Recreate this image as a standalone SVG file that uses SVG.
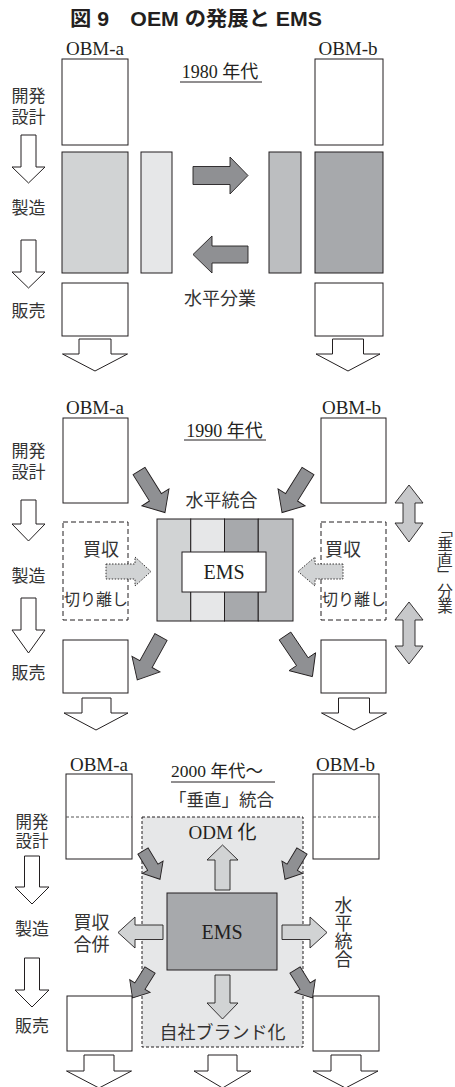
<svg xmlns="http://www.w3.org/2000/svg" xmlns:xlink="http://www.w3.org/1999/xlink" width="455" height="1087" viewBox="0 0 455 1087">
<style>
.t{font-family:"Liberation Serif","Noto Sans CJK JP",serif;fill:#231f20;}
.j{font-family:"Noto Sans CJK JP","Liberation Sans",sans-serif;fill:#333;}
.k{font-family:"Liberation Sans","Noto Sans CJK JP",sans-serif;fill:#333;}
.box{fill:#fff;stroke:#231f20;stroke-width:1;}
.ln{stroke:#231f20;stroke-width:1;fill:none;}
.wa{fill:#fff;stroke:#231f20;stroke-width:1;}
.da{fill:#8f9093;stroke:#231f20;stroke-width:0.9;}
.la{fill:#d1d3d4;stroke:#231f20;stroke-width:0.9;}
.dbl{fill:#c7c8ca;stroke:#231f20;stroke-width:0.9;}
.dot{fill:#d1d3d4;stroke:#231f20;stroke-width:0.9;stroke-dasharray:1.5,1.5;}
.dash{fill:#fff;stroke:#231f20;stroke-width:1;stroke-dasharray:5,3;}
</style>
<defs>
<path id="bigA" d="M0,-7 H31 V-16 L49,0 L31,16 V7 H0 Z"/>
<path id="smA" d="M0,-6 H19 V-12 L33,0 L19,12 V6 H0 Z"/>
</defs>

<g id="title">
<text x="196" y="26" text-anchor="middle" font-family="'Liberation Sans','Noto Sans CJK JP',sans-serif" font-weight="bold" font-size="20" fill="#231f20" textLength="252" lengthAdjust="spacingAndGlyphs">図 9　OEM の発展と EMS</text>
</g>

<!-- ===== Section 1: 1980 ===== -->
<g id="s1-labels">
<text class="t" x="95" y="55" font-size="19" text-anchor="middle">OBM-a</text>
<text class="t" x="348" y="55" font-size="19" text-anchor="middle">OBM-b</text>
<text class="t" x="220" y="78" font-size="18" text-anchor="middle">1980 年代</text>
<line class="ln" x1="180" y1="82" x2="262" y2="82"/>
<text class="k" font-size="17" text-anchor="middle"><tspan x="28.5" y="102">開発</tspan><tspan x="28.5" y="123">設計</tspan></text>
<text class="j" x="28.5" y="214" font-size="17" text-anchor="middle">製造</text>
<text class="j" x="28.5" y="317" font-size="17" text-anchor="middle">販売</text>
<text class="j" x="220" y="305" font-size="18" text-anchor="middle">水平分業</text>
</g>
<g id="s1-obm-a">
<rect class="box" x="62" y="59" width="66" height="86"/>
<rect x="62" y="152" width="66" height="121" fill="#d1d3d4" stroke="#231f20"/>
<rect class="box" x="62" y="283" width="66" height="53"/>
</g>
<g id="s1-bars">
<rect x="141" y="152" width="31" height="121" fill="#e6e7e8" stroke="#231f20"/>
<rect x="269" y="152" width="32" height="121" fill="#bcbec0" stroke="#231f20"/>
</g>
<g id="s1-obm-b">
<rect class="box" x="315" y="59" width="68" height="86"/>
<rect x="315" y="152" width="68" height="121" fill="#a7a9ac" stroke="#231f20"/>
<rect class="box" x="315" y="283" width="68" height="53"/>
</g>
<g id="s1-connectors">
<path class="wa" d="M21,135 H36 V167 H45 L28.5,183 L12,167 H21 Z"/>
<path class="wa" d="M21,240 H36 V272 H45 L28.5,288 L12,272 H21 Z"/>
<path class="da" d="M193,166.5 H230 V157 L248,175.5 L230,194 V184.5 H193 Z"/>
<path class="da" d="M248,246 H212 V236 L193,254.5 L212,273 V263 H248 Z"/>
<path class="wa" d="M79,339 H111 V354 H127.5 L95,371 L62.5,354 H79 Z"/>
<path class="wa" d="M332.5,339 H363.5 V354 H380 L348,371 L316,354 H332.5 Z"/>
</g>

<!-- ===== Section 2: 1990 ===== -->
<g id="s2-labels">
<text class="t" x="95" y="414" font-size="19" text-anchor="middle">OBM-a</text>
<text class="t" x="351.5" y="414" font-size="19" text-anchor="middle">OBM-b</text>
<text class="t" x="224.5" y="436.5" font-size="18" text-anchor="middle">1990 年代</text>
<line class="ln" x1="184" y1="440" x2="266" y2="440"/>
<text class="k" font-size="17" text-anchor="middle"><tspan x="28.5" y="457">開発</tspan><tspan x="28.5" y="478">設計</tspan></text>
<text class="j" x="28.5" y="582" font-size="17" text-anchor="middle">製造</text>
<text class="j" x="28.5" y="679" font-size="17" text-anchor="middle">販売</text>
<text class="j" x="221.5" y="507" font-size="18" text-anchor="middle">水平統合</text>
<text class="j" x="445" y="521" font-size="15.5" writing-mode="vertical-rl">「垂直」分業</text>
</g>
<g id="s2-obm-a">
<rect class="box" x="63" y="418" width="65" height="85"/>
<rect class="dash" x="63" y="522" width="65" height="98"/>
<text class="j" x="83" y="556" font-size="18">買収</text>
<text class="j" x="64" y="605" font-size="16">切り離し</text>
<rect class="box" x="63" y="640" width="65" height="53"/>
</g>
<g id="s2-obm-b">
<rect class="box" x="321" y="418" width="65" height="85"/>
<rect class="dash" x="321" y="522" width="65" height="98"/>
<text class="j" x="325" y="556" font-size="18">買収</text>
<text class="j" x="322" y="605" font-size="16">切り離し</text>
<rect class="box" x="321" y="640" width="65" height="53"/>
</g>
<g id="s2-ems">
<rect x="157" y="519" width="33.75" height="102" fill="#d1d3d4" stroke="#231f20"/>
<rect x="190.75" y="519" width="33.75" height="102" fill="#e6e7e8" stroke="#231f20"/>
<rect x="224.5" y="519" width="33.75" height="102" fill="#a7a9ac" stroke="#231f20"/>
<rect x="258.25" y="519" width="34.75" height="102" fill="#bcbec0" stroke="#231f20"/>
<rect class="box" x="182" y="552" width="84" height="40"/>
<text class="t" x="224" y="579" font-size="20" text-anchor="middle">EMS</text>
</g>
<g id="s2-connectors">
<path class="wa" d="M21,500 H36 V524 H45 L28.5,541 L12,524 H21 Z"/>
<path class="wa" d="M21,598 H36 V630 H45 L28.5,653 L12,630 H21 Z"/>
<use xlink:href="#bigA" class="da" transform="translate(139,471) rotate(58)"/>
<use xlink:href="#bigA" class="da" transform="translate(308,471) rotate(122)"/>
<use xlink:href="#bigA" class="da" transform="translate(161,637) rotate(119)"/>
<use xlink:href="#bigA" class="da" transform="translate(285,636) rotate(56)"/>
<path class="dot" d="M106,564 H135 V557 L151,571.5 L135,586 V579 H106 Z"/>
<path class="dot" d="M343,564 H315 V557 L298,571.5 L315,586 V579 H343 Z"/>
<path class="dbl" d="M409,485 L423,503 H415 V523 H423 L409,542 L395,523 H403 V503 H395 Z"/>
<path class="dbl" d="M409,602 L423,620 H415 V646 H423 L409,664 L395,646 H403 V620 H395 Z"/>
<path class="wa" d="M82,698 H111 V713 H128 L96,730 L64,713 H82 Z"/>
<path class="wa" d="M338.5,698 H369.5 V713 H386.5 L354,730 L321.5,713 H338.5 Z"/>
</g>

<!-- ===== Section 3: 2000 ===== -->
<g id="s3-region">
<rect x="142" y="817" width="161" height="230" fill="#e6e7e8" stroke="#231f20" stroke-width="1" stroke-dasharray="3,2"/>
</g>
<g id="s3-labels">
<text class="t" x="99" y="771" font-size="19" text-anchor="middle">OBM-a</text>
<text class="t" x="345.5" y="771" font-size="19" text-anchor="middle">OBM-b</text>
<text class="t" x="217" y="777" font-size="17.5" text-anchor="middle">2000 年代～</text>
<line class="ln" x1="171" y1="782" x2="275" y2="782"/>
<text class="j" x="221.5" y="806" font-size="17.5" text-anchor="middle">「垂直」統合</text>
<text class="t" x="222.5" y="839" font-size="19" text-anchor="middle">ODM 化</text>
<text class="k" font-size="16.5" text-anchor="middle"><tspan x="32" y="828">開発</tspan><tspan x="32" y="847">設計</tspan></text>
<text class="j" x="32" y="935" font-size="17" text-anchor="middle">製造</text>
<text class="j" x="32" y="1032" font-size="17" text-anchor="middle">販売</text>
<text class="k" font-size="18" text-anchor="middle"><tspan x="91.5" y="929">買収</tspan><tspan x="91.5" y="951">合併</tspan></text>
<text class="j" x="343.5" y="896" font-size="18" writing-mode="vertical-rl">水平統合</text>
<text class="j" x="222.5" y="1039" font-size="18" text-anchor="middle">自社ブランド化</text>
</g>
<g id="s3-obm-a">
<rect class="box" x="66" y="774" width="66" height="85"/>
<line x1="66" y1="817" x2="132" y2="817" stroke="#555" stroke-width="1" stroke-dasharray="3,2"/>
<rect class="box" x="67" y="996" width="65" height="55"/>
</g>
<g id="s3-obm-b">
<rect class="box" x="313" y="774" width="66" height="85"/>
<line x1="313" y1="817" x2="379" y2="817" stroke="#555" stroke-width="1" stroke-dasharray="3,2"/>
<rect class="box" x="313" y="996" width="66" height="55"/>
</g>
<g id="s3-ems">
<rect x="167" y="893" width="110" height="77" fill="#a7a9ac" stroke="#231f20"/>
<text class="t" x="222" y="939" font-size="20" text-anchor="middle">EMS</text>
</g>
<g id="s3-connectors">
<path class="wa" d="M24.5,856 H39.5 V887 H49 L32,904 L15,887 H24.5 Z"/>
<path class="wa" d="M24.5,958 H39.5 V990 H49 L32,1007 L15,990 H24.5 Z"/>
<use xlink:href="#smA" class="da" transform="translate(143,851) rotate(59)"/>
<use xlink:href="#smA" class="da" transform="translate(302,851) rotate(121)"/>
<use xlink:href="#smA" class="da" transform="translate(150,970) rotate(122)"/>
<use xlink:href="#smA" class="da" transform="translate(295,970) rotate(58)"/>
<path class="la" d="M215,890 V860 H207 L222.5,845 L238,860 H230 V890 Z"/>
<path class="la" d="M215,975 H230 V1003 H238 L222.5,1019 L207,1003 H215 Z"/>
<path class="la" d="M163,925 H135 V917 L118,932.5 L135,948 V939.5 H163 Z"/>
<path class="la" d="M282,925 H310 V917 L327,932.5 L310,948 V939.5 H282 Z"/>
<path class="wa" d="M84,1055 H114 V1071 H131.5 L99,1088 L66.5,1071 H84 Z"/>
<path class="wa" d="M208,1055 H237 V1071 H251 L222.5,1088 L194,1071 H208 Z"/>
<path class="wa" d="M331,1055 H361 V1071 H378 L345.5,1088 L313,1071 H331 Z"/>
</g>
</svg>
